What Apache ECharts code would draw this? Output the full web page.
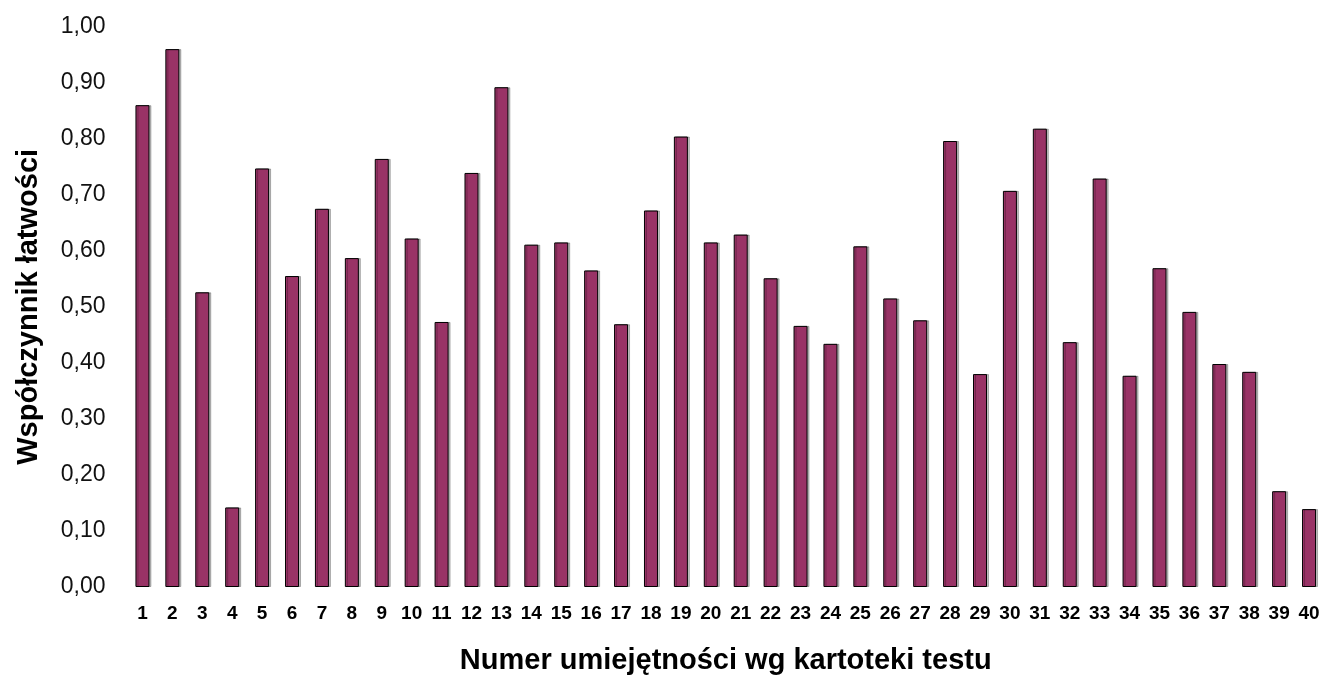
<!DOCTYPE html>
<html>
<head>
<meta charset="utf-8">
<script src="https://cdn.jsdelivr.net/npm/echarts@6/dist/echarts.min.js"></script>
<style>
  html, body { margin: 0; padding: 0; background: #fff; }
  #chart { width: 1324px; height: 680px; }
</style>
</head>
<body>
<div id="chart"></div>
<script>
// numery umiejętności 1..40
const categories = ['1', '2', '3', '4', '5', '6', '7', '8', '9', '10',
  '11', '12', '13', '14', '15', '16', '17', '18', '19', '20',
  '21', '22', '23', '24', '25', '26', '27', '28', '29', '30',
  '31', '32', '33', '34', '35', '36', '37', '38', '39', '40']

// współczynnik łatwości
const values = [0.86, 0.96, 0.526, 0.142, 0.747, 0.555, 0.675, 0.587, 0.764, 0.622,
  0.473, 0.739, 0.892, 0.611, 0.615, 0.565, 0.469, 0.672, 0.804, 0.615,
  0.629, 0.551, 0.466, 0.434, 0.608, 0.515, 0.476, 0.796, 0.380, 0.707,
  0.818, 0.437, 0.729, 0.377, 0.569, 0.491, 0.398, 0.384, 0.171, 0.139]

const yTicks = { min: 0, max: 1, interval: 0.1 }

const chart = echarts.init(document.getElementById('chart'), null, { renderer: 'canvas' })

const option = {
  animation: false,
  backgroundColor: '#fff',
  grid: {
    left: 127.5,
    top: 26.7,
    width: 1198.4,
    bottom: 90.7,
    containLabel: false
  },
  xAxis: {
    type: 'category',
    data: categories,
    name: 'Numer umiejętności wg kartoteki testu',
    nameLocation: 'middle',
    nameGap: 59,
    nameTextStyle: {
      fontFamily: 'Liberation Sans, Arial, sans-serif',
      fontWeight: 'bold',
      fontSize: 29,
      color: '#000'
    },
    axisLine: { show: false },
    axisTick: { show: false },
    axisLabel: {
      margin: 17,
      interval: 0,
      fontFamily: 'Liberation Sans Narrow, Liberation Sans, Arial, sans-serif',
      fontWeight: 'bold',
      fontSize: 19,
      color: '#000'
    }
  },
  yAxis: {
    type: 'value',
    min: yTicks.min,
    max: yTicks.max,
    interval: yTicks.interval,
    name: 'Współczynnik łatwości',
    nameLocation: 'middle',
    nameGap: 84,
    nameTextStyle: {
      fontFamily: 'Liberation Sans, Arial, sans-serif',
      fontWeight: 'bold',
      fontSize: 29,
      color: '#000'
    },
    axisLine: { show: false },
    axisTick: { show: false },
    splitLine: { show: false },
    axisLabel: {
      margin: 22,
      fontFamily: 'Liberation Sans, Arial, sans-serif',
      fontSize: 23,
      color: '#111',
      formatter: function (v) {
        return v.toFixed(2).replace('.', ',')
      }
    }
  },
  series: [
    {
      type: 'bar',
      data: values,
      barWidth: 14,
      itemStyle: {
        color: '#993366',
        borderColor: '#000',
        borderWidth: 1,
        shadowColor: 'rgba(0,0,0,0.25)',
        shadowOffsetX: 2,
        shadowOffsetY: 0,
        shadowBlur: 0
      }
    }
  ]
}

chart.setOption(option)
</script>
</body>
</html>
